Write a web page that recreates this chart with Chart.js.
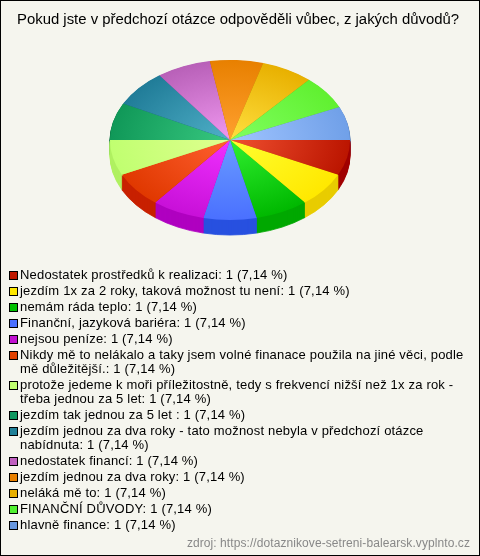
<!DOCTYPE html>
<html lang="cs">
<head>
<meta charset="utf-8">
<style>
html,body{margin:0;padding:0;background:#F5F5EE;}
#wrap{position:relative;width:480px;height:556px;overflow:hidden;font-family:"Liberation Sans",Arial,sans-serif;}
canvas{position:absolute;left:0;top:0;display:block;}
#frame{position:absolute;left:0;top:0;width:478px;height:554px;border:1px solid #000;pointer-events:none;}
#legend{position:absolute;left:20px;top:268px;width:455px;font-size:13px;line-height:14px;letter-spacing:.18px;color:#000;}
#legend div{position:relative;margin-bottom:2px;}
#legend i{position:absolute;left:-11px;top:3px;width:7px;height:7px;border:1px solid #000;}
#source{position:absolute;right:10px;top:536px;font-size:12px;line-height:14px;letter-spacing:.08px;color:#888;}
</style>
</head>
<body>
<div id="wrap">
<canvas id="c" width="480" height="556"></canvas>
<div id="legend"></div>
<div id="source"></div>
<div id="frame"></div>
</div>
<script src="https://cdn.jsdelivr.net/npm/chart.js@4/dist/chart.umd.js"></script>
<script>
const chartTitle = "Pokud jste v předchozí otázce odpověděli vůbec, z jakých důvodů?";
const sourceText = "zdroj: https://dotaznikove-setreni-balearsk.vyplnto.cz";
const categories = [
  "Nedostatek prostředků k realizaci",
  "jezdím 1x za 2 roky, taková možnost tu není",
  "nemám ráda teplo",
  "Finanční, jazyková bariéra",
  "nejsou peníze",
  "Nikdy mě to nelákalo a taky jsem volné finanace použila na jiné věci, podle mě důležitější.",
  "protože jedeme k moři příležitostně, tedy s frekvencí nižší než 1x za rok - třeba jednou za 5 let",
  "jezdím tak jednou za 5 let ",
  "jezdím jednou za dva roky - tato možnost nebyla v předchozí otázce nabídnuta",
  "nedostatek financí",
  "jezdím jednou za dva roky",
  "neláká mě to",
  "FINANČNÍ DŮVODY",
  "hlavně finance"
];
const values = [1,1,1,1,1,1,1,1,1,1,1,1,1,1];
const percents = ["7,14","7,14","7,14","7,14","7,14","7,14","7,14","7,14","7,14","7,14","7,14","7,14","7,14","7,14"];
const centerColors = ["#F05030","#FFFF30","#30F030","#6A9CFF","#F030FF","#FF6030","#E0FF90","#38C880","#50B0C8","#F098F0","#FFA030","#FFE040","#80FF60","#A0C4FF"];
const rimColors = ["#BB1500","#FFE800","#00B800","#4A70FF","#C810D8","#E03800","#C0FF70","#109858","#207C98","#B860B8","#E88000","#E8B000","#60F030","#70A0E8"];
const sideColors = ["#A00000","#E8CC00","#00A800","#2850E0","#B000C0","#C82000","#B0F060","#0A7040","#185C70","#8C4890","#B06000","#B08400","#48B824","#5078B0"];
const legendColors = ["#C01800","#FFE800","#00C000","#4A70FF","#C010D0","#E04000","#C0FF70","#109860","#208098","#C060C0","#E88000","#E8B000","#50F030","#6898E0"];
const screenCenterX = 230, screenCenterY = 140, squash = 2/3, depth = 15, backTwist = 3.3 * Math.PI / 180;

document.getElementById("source").textContent = sourceText;
const lg = document.getElementById("legend");
categories.forEach((name,i)=>{
  const row = document.createElement("div");
  const sw = document.createElement("i");
  sw.style.background = legendColors[i];
  row.appendChild(sw);
  row.appendChild(document.createTextNode(`${name}: ${values[i]} (${percents[i]} %)`));
  lg.appendChild(row);
});

function sliceGradient(ctx){
  const chart = ctx.chart, a = chart.chartArea;
  if(!a) return rimColors[ctx.dataIndex];
  const x = (a.left+a.right)/2, y = (a.top+a.bottom)/2;
  const r = Math.min(a.right-a.left,a.bottom-a.top)/2;
  const g = chart.ctx.createRadialGradient(x,y,0,x,y,r);
  g.addColorStop(0,centerColors[ctx.dataIndex]);
  g.addColorStop(1,rimColors[ctx.dataIndex]);
  return g;
}

// The reference's tilted projection pulls the back half of the disc clockwise a little.
function warp(angle){
  const t = angle - Math.PI;
  return t > 0 && t < Math.PI ? angle + backTwist * Math.sin(t) : angle;
}
function view(arc,extra){
  const start = warp(arc.startAngle), end = warp(arc.endAngle);
  return Object.create(arc,{
    startAngle:{value:start},
    endAngle:{value:end},
    circumference:{value:end-start},
    options:{value:Object.assign({},arc.options,extra)}
  });
}

const tilt = {
  id:"tilt",
  beforeDatasetsDraw(chart){
    const ctx = chart.ctx, arcs = chart.getDatasetMeta(0).data;
    const cx = arcs[0].x, cy = arcs[0].y;
    ctx.save();
    ctx.translate(screenCenterX-cx,screenCenterY);
    ctx.scale(1,squash);
    ctx.translate(0,-cy);
    for(let d=depth;d>=1;d--){
      ctx.save();
      ctx.translate(0,d/squash);
      arcs.forEach((arc,i)=>{
        arc.draw.call(view(arc,{backgroundColor:sideColors[i],borderWidth:1,borderColor:sideColors[i]}),ctx);
      });
      ctx.restore();
    }
    arcs.forEach(arc=>arc.draw.call(view(arc,{}),ctx));
    ctx.restore();
  },
  beforeDatasetDraw(){ return false; }
};

new Chart(document.getElementById("c"),{
  type:"pie",
  data:{labels:categories,datasets:[{data:values,backgroundColor:sliceGradient,borderWidth:0,clip:false,hoverOffset:0}]},
  options:{
    responsive:false,
    animation:false,
    rotation:90,
    layout:{padding:{left:0,right:4,top:0,bottom:281}},
    plugins:{
      legend:{display:false},
      tooltip:{enabled:false},
      title:{display:true,text:chartTitle,color:"#000",font:{family:'"Liberation Sans",Arial,sans-serif',size:14.9,weight:"normal"},padding:{top:11,bottom:6}}
    }
  },
  plugins:[tilt]
});
</script>
</body>
</html>
